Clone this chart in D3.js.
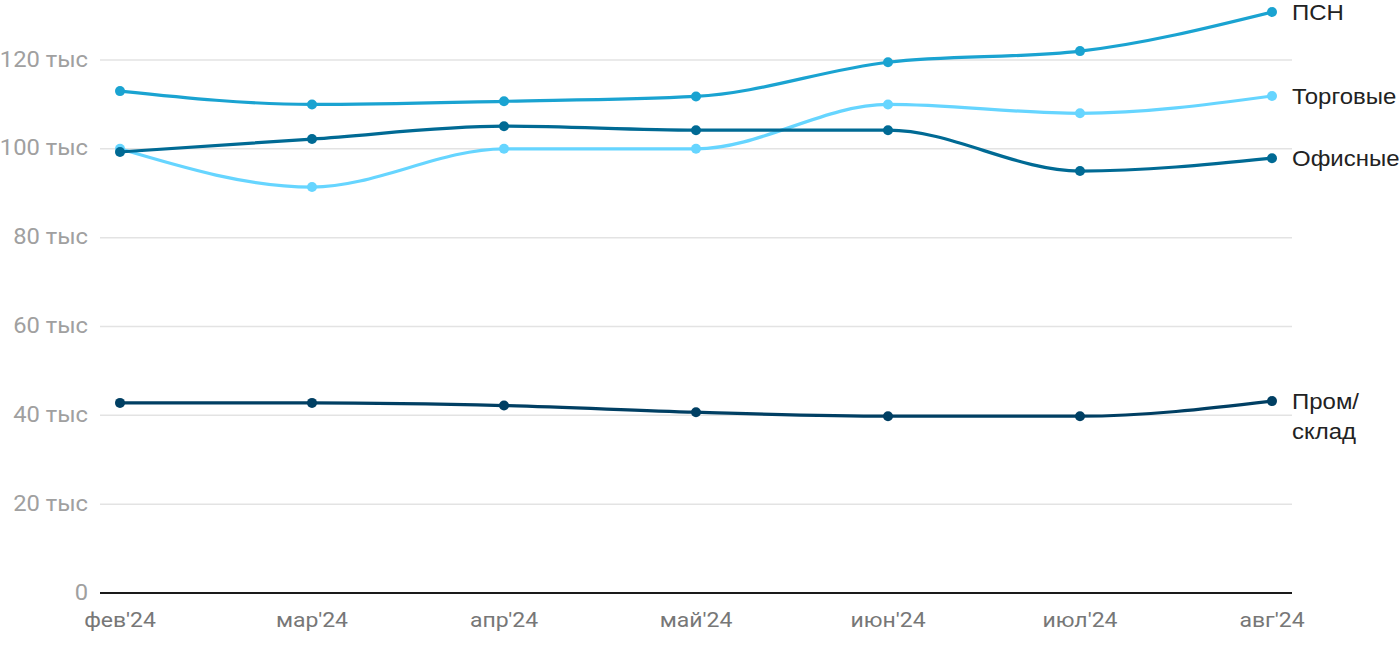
<!DOCTYPE html>
<html><head><meta charset="utf-8">
<script src="https://cdn.jsdelivr.net/npm/d3@7"></script>
<style>
html,body{margin:0;padding:0;background:#fff;}
svg{display:block;font-family:Roboto, "Noto Sans", sans-serif;}
</style></head>
<body>
<svg id="chart" width="1400" height="650"></svg>
<script>
const months = ["фев'24","мар'24","апр'24","май'24","июн'24","июл'24","авг'24"];
const psn    = [113.0, 110.0, 110.7, 111.8, 119.5, 122.0, 130.8];
const retail = [100.0, 91.4, 100.0, 100.0, 110.0, 108.0, 111.9];
const office = [99.3, 102.2, 105.1, 104.2, 104.2, 95.0, 97.9];
const prom   = [42.8, 42.8, 42.2, 40.7, 39.8, 39.8, 43.2];
const yTicks = [0, 20, 40, 60, 80, 100, 120];
const seriesNames = ["ПСН", "Торговые", "Офисные", "Пром/склад"];
const seriesColors = ["#1aa3d1", "#66d5ff", "#006a94", "#003f63"];

(function(){
const series = [
  {name: seriesNames[0], values: psn, color: seriesColors[0], label: ["ПСН"]},
  {name: seriesNames[1], values: retail, color: seriesColors[1], label: ["Торговые"]},
  {name: seriesNames[2], values: office, color: seriesColors[2], label: ["Офисные"]},
  {name: seriesNames[3], values: prom, color: seriesColors[3], label: ["Пром/", "склад"]}
];

const svg = d3.select("#chart");
const mLeft = 100, mRight = 1292, mBottom = 593;
const x = d3.scalePoint().domain(months).range([120, 1272]);
const y = d3.scaleLinear().domain([0, 120]).range([mBottom, 60]);

svg.append("g").selectAll("line").data(yTicks.filter(d => d > 0)).join("line")
  .attr("x1", mLeft).attr("x2", mRight)
  .attr("y1", d => y(d)).attr("y2", d => y(d))
  .attr("stroke", "#e3e3e3").attr("stroke-width", 1.5);

svg.append("g").selectAll("text").data(yTicks).join("text")
  .attr("transform", d => `translate(88,${y(d) + 6.5}) scale(1.08,1)`)
  .attr("text-anchor", "end")
  .attr("font-size", 22).attr("fill", "#a0a0a0")
  .text(d => d === 0 ? "0" : d + " тыс");

svg.append("line").attr("x1", mLeft).attr("x2", mRight)
  .attr("y1", y(0)).attr("y2", y(0))
  .attr("stroke", "#1a1a1a").attr("stroke-width", 2);

svg.append("g").selectAll("text").data(months).join("text")
  .attr("transform", d => `translate(${x(d)},627) scale(1.18,1)`)
  .attr("text-anchor", "middle")
  .attr("font-size", 19.5).attr("fill", "#777")
  .text(d => d);

const line = d3.line()
  .x((d, i) => x(months[i]))
  .y(d => y(d))
  .curve(d3.curveMonotoneX);

const drawOrder = [3, 1, 2, 0];
drawOrder.forEach(k => {
  const s = series[k];
  const g = svg.append("g");
  g.append("path").attr("d", line(s.values))
    .attr("fill", "none").attr("stroke", s.color).attr("stroke-width", 3.2)
    .attr("stroke-linejoin", "round").attr("stroke-linecap", "round");
  g.selectAll("circle").data(s.values).join("circle")
    .attr("cx", (d, i) => x(months[i])).attr("cy", d => y(d))
    .attr("r", 5).attr("fill", s.color);
});

series.forEach(s => {
  const last = s.values[s.values.length - 1];
  const t = svg.append("text")
    .attr("transform", `translate(1292,${y(last) + 8}) scale(1.09,1)`)
    .attr("font-family", "'Liberation Sans', Arial, sans-serif")
    .attr("font-size", 22).attr("fill", "#222");
  s.label.forEach((l, i) => {
    t.append("tspan").attr("x", 0).attr("dy", i === 0 ? 0 : 30).text(l);
  });
});
})();
</script>
</body></html>
